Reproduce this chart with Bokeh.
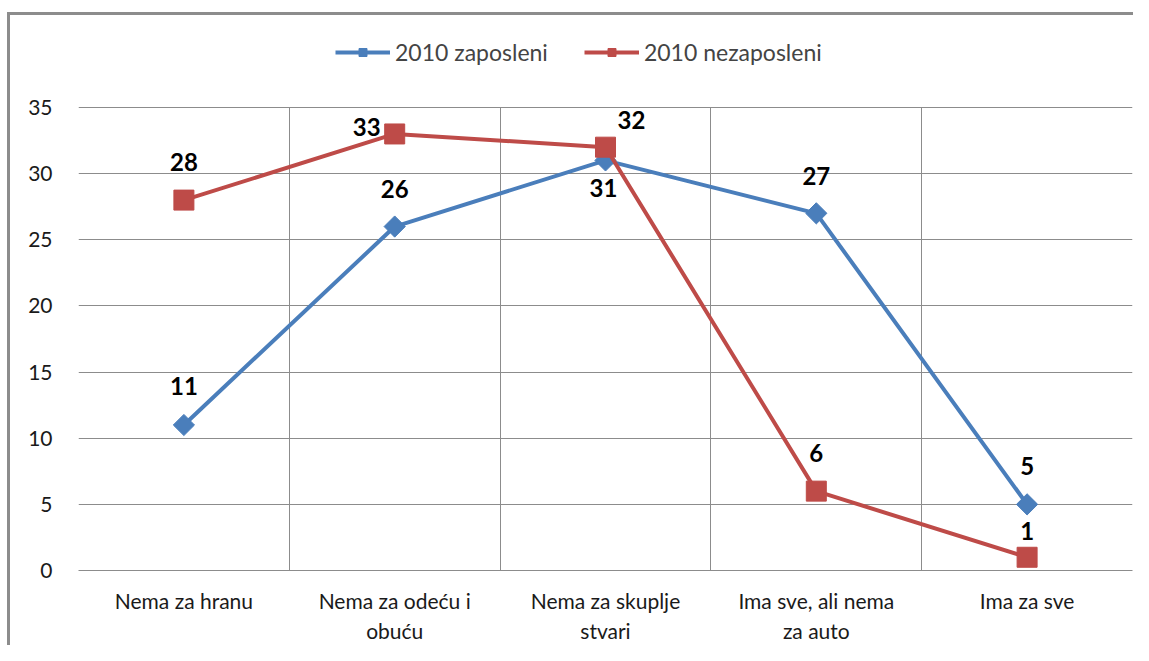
import math
from bokeh.plotting import figure
from bokeh.models import (Range1d, FixedTicker, Legend, LegendItem, ColumnDataSource)
from bokeh.core.properties import value
from bokeh.embed import file_html
from bokeh.resources import INLINE

categories = ["Nema za hranu", "Nema za odeću i\nobuću", "Nema za skuplje\nstvari",
              "Ima sve, ali nema\nza auto", "Ima za sve"]
zaposleni = [11, 26, 31, 27, 5]
nezaposleni = [28, 33, 32, 6, 1]
series_names = ["2010 zaposleni", "2010 nezaposleni"]
y_ticks = [0, 5, 10, 15, 20, 25, 30, 35]
y_max = 35

# label offsets (screen px) for data labels
zap_dx = [0, 0, -2, 0, 0]
zap_dy = [-39, -38, 28, -37, -38]
nez_dx = [0, -28, 26, 0, 0]
nez_dy = [-38, -7, -27, -38, -26]

BLUE = "#4A7EBB"
RED = "#BE4B48"
GRID = "#8C8C8C"
FONT = "Lato"

# layout (pixels): frame spans from top 20 to bottom 570; value 35 sits at 107
FRAME_TOP, PLOT_TOP, FRAME_BOTTOM = 20, 107, 570
y_end = y_max * (FRAME_BOTTOM - FRAME_TOP) / (FRAME_BOTTOM - PLOT_TOP)

xs = [i + 0.5 for i in range(len(categories))]

p = figure(width=1133, height=645, output_backend="svg", toolbar_location=None,
           x_range=Range1d(0, len(categories)), y_range=Range1d(0, y_end),
           min_border_left=78, min_border_right=1, min_border_top=FRAME_TOP,
           min_border_bottom=645 - FRAME_BOTTOM)
p.background_fill_color = "white"
p.border_fill_alpha = 0
p.outline_line_color = None

# grids
p.xgrid.ticker = FixedTicker(ticks=list(range(len(categories) + 1)))
p.xgrid.grid_line_color = GRID
p.xgrid.cross_bounds = (0, y_max)
p.ygrid.ticker = FixedTicker(ticks=y_ticks)
p.ygrid.grid_line_color = GRID

# axes
p.xaxis.ticker = FixedTicker(ticks=xs)
p.xaxis.major_label_overrides = {x: c for x, c in zip(xs, categories)}
p.yaxis.ticker = FixedTicker(ticks=y_ticks)
for ax in (p.xaxis[0], p.yaxis[0]):
    ax.major_tick_line_color = None
    ax.minor_tick_line_color = None
    ax.major_label_text_font = FONT
    ax.major_label_text_font_size = "21px"
    ax.major_label_text_color = "#1a1a1a"
p.xaxis.axis_line_color = GRID
p.yaxis.axis_line_color = None
p.xaxis.major_label_standoff = 11
p.xaxis.major_label_text_line_height = 1.2
p.yaxis.major_label_standoff = 20

src_z = ColumnDataSource(dict(x=xs, y=zaposleni, t=[str(v) for v in zaposleni], dx=zap_dx, dy=zap_dy))
src_n = ColumnDataSource(dict(x=xs, y=nezaposleni, t=[str(v) for v in nezaposleni], dx=nez_dx, dy=nez_dy))

lz = p.line("x", "y", source=src_z, line_color=BLUE, line_width=4)
mz = p.scatter("x", "y", source=src_z, marker="square", angle=math.pi / 4, size=15,
               fill_color=BLUE, line_color=BLUE)
ln = p.line("x", "y", source=src_n, line_color=RED, line_width=4)
mn = p.scatter("x", "y", source=src_n, marker="square", size=20, fill_color=RED, line_color=RED)

for src in (src_z, src_n):
    p.text("x", "y", text="t", source=src, x_offset="dx", y_offset="dy",
           text_font=value(FONT), text_font_size="24px", text_font_style="bold",
           text_align="center", text_baseline="middle", text_color="black")

legend = Legend(items=[LegendItem(label=series_names[0], renderers=[lz, mz]),
                       LegendItem(label=series_names[1], renderers=[ln, mn])],
                orientation="horizontal", location=(257, 504),
                label_text_font=FONT, label_text_font_size="23px",
                glyph_width=55, glyph_height=20, label_standoff=5, spacing=36,
                border_line_color=None, background_fill_alpha=0, margin=0, padding=0)
p.add_layout(legend, "center")

p.styles = {
    "background": ("linear-gradient(#8C8C8C, #8C8C8C) 7px 12px / 100% 3px no-repeat, "
                   "linear-gradient(#8C8C8C, #8C8C8C) 7px 12px / 3px 100% no-repeat, white"),
}

open("out.html", "w").write(file_html(p, INLINE))
